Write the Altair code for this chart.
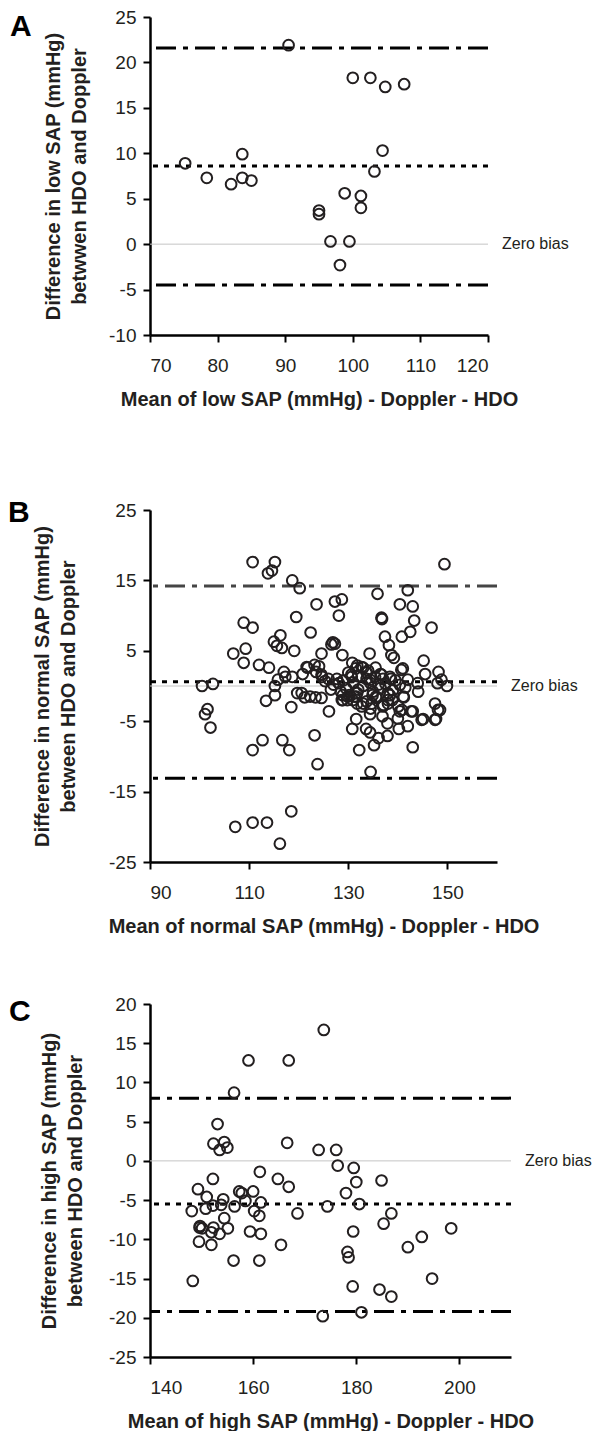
import altair as alt
import pandas as pd

FONT = "Liberation Sans"
INK = "#231f20"

# ---------------- Panel A (low SAP) ----------------
a_mean = [75.2, 78.4, 82.0, 83.65, 83.65, 85.0, 90.5, 95.0, 95.0, 96.7, 98.1,
          98.8, 99.5, 100.0, 101.2, 101.2, 102.6, 103.2, 104.4, 104.8, 107.6]
a_diff = [8.9, 7.3, 6.6, 9.9, 7.3, 7.0, 21.9, 3.7, 3.3, 0.3, -2.3,
          5.6, 0.3, 18.3, 5.3, 4.0, 18.3, 8.0, 10.3, 17.3, 17.6]
a_limits = [21.6, -4.5]
a_bias = 8.6

# ---------------- Panel B (normal SAP) ----------------
b_mean = [110.7, 115.2, 113.8, 114.6, 118.7, 120.2, 149.4, 135.9, 142.0, 123.6,
          127.3, 128.7, 128.1, 140.4, 143.0, 136.7, 136.8, 143.3, 119.5, 108.9,
          110.7, 146.8, 122.4, 116.3, 142.5, 140.8, 137.4, 115.0, 115.6, 116.6,
          126.9, 127.3, 126.6, 138.2, 128.8, 106.8, 109.3, 119.1, 124.6, 134.3,
          138.7, 139.2, 145.2, 108.9, 112.0, 114.0, 117.0, 121.8, 123.2, 124.1,
          130.8, 131.8, 133.0, 141.0, 140.7, 121.6, 134.0, 135.5,
          145.5, 148.2, 148.8, 149.9, 148.0, 144.0, 136.5, 138.6, 115.8, 115.2,
          117.3, 118.7, 120.8, 123.5, 124.6, 124.7, 125.3, 126.0, 127.7, 128.1,
          130.6, 130.7, 131.5, 132.7, 133.7, 133.7, 134.4, 134.5, 135.4, 136.7,
          136.1, 137.0, 137.5, 138.4, 139.5, 140.4, 142.0, 141.5, 100.5, 102.7,
          127.0, 129.0, 129.5, 131.0, 132.0, 133.0, 135.0, 136.5, 139.0, 126.5,
          130.0, 132.0, 138.0, 128.5, 131.8, 134.9, 144.1,
          120.6, 122.3, 124.6, 128.9, 129.9, 130.9, 131.6, 132.7, 133.7, 134.7,
          135.7, 137.0, 138.0, 138.9, 140.1, 140.4, 141.1, 142.7, 144.8, 147.5,
          147.5, 148.1, 101.6, 101.1, 102.2, 113.4, 115.2, 118.5, 119.7, 121.2,
          123.4, 126.1, 110.7, 112.7, 116.7, 118.1, 123.2, 123.8, 134.5, 132.2,
          130.8, 131.6, 133.6, 134.4, 135.2, 136.1, 137.9, 140.2, 142.0, 143.0,
          145.1, 147.7, 148.5, 143.0, 141.2, 140.8, 140.0, 137.9, 136.9, 137.1,
          134.4, 134.5, 133.0, 131.8, 129.8, 128.7, 128.9, 130.2, 131.2, 135.6,
          138.0, 138.4, 107.2, 110.7, 113.6, 116.2, 118.5]
b_diff = [17.6, 17.6, 16.0, 16.4, 15.0, 13.9, 17.3, 13.1, 13.6, 11.6,
          12.0, 12.3, 10.0, 11.6, 11.3, 9.7, 9.5, 9.3, 9.8, 9.0,
          8.3, 8.3, 7.6, 7.2, 7.7, 7.0, 7.0, 6.3, 5.7, 5.4,
          6.2, 6.0, 5.9, 5.8, 4.4, 4.6, 5.3, 5.0, 4.6, 4.6,
          4.4, 4.0, 3.6, 3.3, 3.0, 2.6, 2.0, 2.6, 3.0, 2.8,
          3.3, 2.9, 2.6, 2.5, 2.3, 2.7, 2.2, 2.6,
          1.7, 2.0, 0.9, 0.0, 0.4, 0.4, 1.7, 1.0, 0.9, 0.0,
          1.3, 1.3, 1.7, 2.0, 1.6, 1.3, 0.7, 1.0, 1.0, 0.4,
          1.6, 1.3, 2.5, 2.7, 1.9, 1.0, 0.9, 0.4, 1.3, 1.6,
          0.2, 1.0, 0.3, 1.3, 0.8, 0.15, 0.9, -0.2, 0.0, 0.3,
          0.2, 0.8, -0.3, 0.5, -0.5, 0.0, -0.8, -0.3, -0.6, -0.5,
          1.9, 1.4, -1.0, -0.8, -1.0, -1.3, -0.8,
          -1.0, -1.5, -1.7, -2.0, -1.5, -2.0, -1.5, -2.9, -2.2, -2.5,
          -1.7, -2.9, -2.5, -2.0, -2.9, -3.6, -1.5, -3.6, -4.8, -2.5,
          -4.8, -3.4, -3.3, -4.0, -5.9, -2.1, -1.3, -3.0, -1.0, -1.6,
          -1.6, -3.6, -9.1, -7.7, -7.7, -9.1, -7.0, -11.1, -12.2, -9.1,
          -6.1, -4.7, -6.1, -6.6, -8.4, -7.4, -7.1, -6.1, -5.7, -8.7,
          -4.7, -4.7, -3.4, -3.6, -1.6, -3.4, -4.6, -5.3, -4.3, -2.7,
          -4.0, -3.2, -2.5, -2.5, -2.0, -2.0, -1.3, -1.3, -1.5, -1.5,
          -2.0, -1.3, -20.0, -19.4, -19.4, -22.4, -17.8]
b_limits = [14.2, -13.1]
b_bias = 0.6

# ---------------- Panel C (high SAP) ----------------
c_mean = [173.7, 159.1, 166.9, 156.3, 153.1, 152.3, 154.4, 153.5, 155.0, 166.6,
          172.7, 176.1, 176.4, 179.5, 180.0, 184.9, 164.8, 166.9, 161.3, 152.2,
          149.3, 151.0, 154.2, 157.3, 157.8, 160.0, 161.5, 178.0, 174.4, 180.6,
          186.8, 168.6, 148.1, 150.8, 152.2, 153.8, 156.4, 158.5, 160.2, 161.2,
          154.4, 149.7, 150.1, 152.3, 155.1, 151.9, 153.5, 159.4, 161.5, 149.5,
          151.9, 165.4, 156.2, 161.2, 148.3, 179.4, 185.3, 178.3, 178.5, 190.0,
          192.7, 198.4, 194.7, 179.3, 184.5, 186.8, 173.5, 181.0, 149.6]
c_diff = [16.7, 12.8, 12.8, 8.7, 4.7, 2.2, 2.4, 1.4, 1.7, 2.3,
          1.4, 1.4, -0.6, -0.9, -2.7, -2.5, -2.3, -3.3, -1.4, -2.3,
          -3.6, -4.6, -4.9, -3.9, -4.1, -3.9, -5.3, -4.1, -5.8, -5.5,
          -6.7, -6.7, -6.4, -6.1, -5.7, -5.6, -5.8, -5.1, -6.4, -7.0,
          -7.3, -8.3, -8.6, -8.5, -8.6, -9.1, -9.3, -9.0, -9.3, -10.3,
          -10.7, -10.7, -12.7, -12.7, -15.3, -9.0, -8.0, -11.6, -12.3, -11.0,
          -9.7, -8.6, -15.0, -16.0, -16.4, -17.3, -19.8, -19.3, -8.5]
c_limits = [8.0, -19.2]
c_bias = -5.5

DASHDOT = [20, 7, 5, 7]
DOTTED = [5, 6]
LABEL_EXPR = "replace(datum.label, '\u2212', '-')"


def panel(means, diffs, limits, bias, xdom, xticks, ydom, yticks, xtitle, ytitle,
          letter, w, h, letter_dx, letter_dy, upper_color, title_pad, extra_top=0):
    pts = pd.DataFrame({"mean": means, "diff": diffs})
    yscale = alt.Scale(domain=ydom, nice=False, zero=False)
    xscale = alt.Scale(domain=xdom, nice=False, zero=False)
    yaxis = alt.Axis(values=yticks, title=ytitle, titlePadding=title_pad,
                     labelExpr=LABEL_EXPR)
    xaxis = alt.Axis(values=xticks, title=xtitle)

    def Y():
        return alt.Y("diff:Q", scale=yscale, axis=yaxis, title=ytitle)

    zero = alt.Chart(pd.DataFrame({"diff": [0.0]})).mark_rule(
        color="#c4c4c4", strokeWidth=1).encode(y=Y())
    up = alt.Chart(pd.DataFrame({"diff": [limits[0]]})).mark_rule(
        color=upper_color, strokeWidth=3, strokeDash=DASHDOT).encode(y=Y())
    lo = alt.Chart(pd.DataFrame({"diff": [limits[1]]})).mark_rule(
        color="black", strokeWidth=3, strokeDash=DASHDOT).encode(y=Y())
    bi = alt.Chart(pd.DataFrame({"diff": [bias]})).mark_rule(
        color="black", strokeWidth=3, strokeDash=DOTTED).encode(y=Y())
    dots = alt.Chart(pts).mark_point(
        shape="circle", filled=False, size=115, strokeWidth=2, color=INK, opacity=1
    ).encode(x=alt.X("mean:Q", scale=xscale, axis=xaxis, title=xtitle), y=Y())
    zlabel = alt.Chart(pd.DataFrame({"diff": [0.0], "t": ["Zero bias"]})).mark_text(
        align="left", baseline="middle", fontSize=16, font=FONT, color=INK
    ).encode(x=alt.value(w + 14), y=Y(), text="t:N")
    lab = alt.Chart(pd.DataFrame({"diff": [0.0], "t": [letter]})).mark_text(
        align="left", baseline="top", fontSize=30, fontWeight="bold", font=FONT, color="black"
    ).encode(x=alt.value(letter_dx), y=alt.value(letter_dy), text="t:N")
    layers = [zero, up, lo, bi, dots, zlabel, lab]
    if extra_top:
        pad = alt.Chart(pd.DataFrame({"diff": [0.0], "t": ["."]})).mark_text(
            align="left", baseline="top", fontSize=10, font=FONT, color="white"
        ).encode(x=alt.value(letter_dx + 60), y=alt.value(-7 - extra_top), text="t:N")
        layers.append(pad)
    return alt.layer(*layers).properties(width=w, height=h)


pa = panel(a_mean, a_diff, a_limits, a_bias, [70, 120], [70, 80, 90, 100, 110, 120],
           [-10, 25], [-10, -5, 0, 5, 10, 15, 20, 25],
           "Mean of low SAP (mmHg) - Doppler - HDO",
           ["Difference in low SAP (mmHg)", "betwwen HDO and Doppler"],
           "A", 338, 318, -140, -5.5, "black", 19)
pb = panel(b_mean, b_diff, b_limits, b_bias, [90, 160], [90, 110, 130, 150],
           [-25, 25], [-25, -15, -5, 5, 15, 25],
           "Mean of normal SAP (mmHg) - Doppler - HDO",
           ["Difference in normal SAP (mmHg)", "between HDO and Doppler"],
           "B", 347, 352, -142, -12, "#454545", 30, extra_top=35)
pc = panel(c_mean, c_diff, c_limits, c_bias, [140, 210], [140, 160, 180, 200],
           [-25, 20], [-25, -20, -15, -10, -5, 0, 5, 10, 15, 20],
           "Mean of high SAP (mmHg) - Doppler - HDO",
           ["Difference in high SAP (mmHg)", "between HDO and Doppler"],
           "C", 361, 353, -141, -7, "black", 23)

chart = alt.vconcat(pa, pb, pc, spacing=59).properties(padding=0).configure_view(
    stroke=None
).configure_axis(
    grid=False,
    domainColor="black",
    domainWidth=2.5,
    tickColor="black",
    tickWidth=2,
    tickSize=7,
    labelFont=FONT,
    labelFontSize=19,
    labelColor=INK,
    titleFont=FONT,
    titleFontSize=20,
    titleFontWeight="bold",
    titleColor=INK,
    titleLineHeight=26,
).configure_axisX(
    labelPadding=14,
    titlePadding=14,
).configure_axisY(
    labelPadding=7,
)

chart.save("out.html", embed_options={"renderer": "svg", "actions": False})
